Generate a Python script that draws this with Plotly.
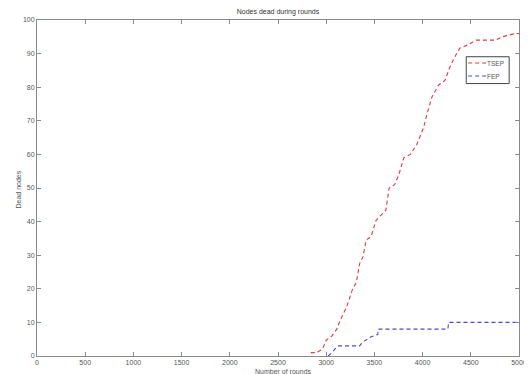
import plotly.graph_objects as go

# Data
tsep_x = [2840, 2900, 2960, 3000, 3060, 3110, 3144, 3212, 3270, 3313, 3347, 3381, 3415,
          3466, 3517, 3568, 3619, 3653, 3710, 3754, 3805, 3873, 3941, 4011, 4045, 4096,
          4164, 4232, 4283, 4334, 4385, 4470, 4554, 4758, 4827, 4962, 5000]
tsep_y = [1, 1, 2, 4.7, 6, 8, 10.6, 14.6, 19.6, 22, 27.5, 29.5, 34.5,
          35.6, 40.4, 42, 43.4, 50, 51, 54, 59, 60, 63, 68, 72, 77,
          80.6, 82, 86, 89, 91.6, 92.6, 94, 94, 95, 96, 96]

fep_x = [3020, 3059, 3110, 3130, 3347, 3364, 3398, 3466, 3534, 3541, 4262, 4270, 5000]
fep_y = [0, 1, 2.7, 3, 3, 3.7, 4.5, 5.7, 6.4, 8, 8, 10, 10]

series_names = ["TSEP", "FEP"]
series_colors = ["#dd3b44", "#4848d0"]

x_ticks = [0, 500, 1000, 1500, 2000, 2500, 3000, 3500, 4000, 4500, 5000]
y_ticks = [0, 10, 20, 30, 40, 50, 60, 70, 80, 90, 100]

title_text = "Nodes dead during rounds"
x_label = "Number of rounds"
y_label = "Dead nodes"

axis_color = "#8a8a8a"
text_color = "#555555"
font_family = "Liberation Sans Narrow, Liberation Sans, Arial, sans-serif"
dash_style = "4px,3px"

fig = go.Figure()
for xs, ys, name, color in [(tsep_x, tsep_y, series_names[0], series_colors[0]),
                            (fep_x, fep_y, series_names[1], series_colors[1])]:
    fig.add_trace(go.Scatter(x=xs, y=ys, mode="lines", name=name, showlegend=False,
                             line=dict(color=color, width=1.1, dash=dash_style)))

axis_common = dict(showgrid=False, zeroline=False, showline=True, mirror="ticks",
                   linecolor=axis_color, linewidth=1, ticks="inside", ticklen=4,
                   tickcolor=axis_color, tickfont=dict(size=7, color=text_color,
                                                       family=font_family))
fig.update_xaxes(range=[0, 5000], tickvals=x_ticks, ticktext=[str(v) for v in x_ticks],
                 ticklabeloverflow="allow", **axis_common)
fig.update_yaxes(range=[0, 100], tickvals=y_ticks, ticktext=[str(v) for v in y_ticks],
                 **axis_common)

# compact MATLAB-style legend box (paper coordinates)
shapes = [dict(type="rect", xref="paper", yref="paper", x0=0.8905, x1=0.9796,
               y0=0.8108, y1=0.8907, line=dict(color="#444444", width=1),
               fillcolor="white", layer="above")]
annotations = []
legend_rows_y = [0.8719, 0.8332]
for name, color, ly in zip(series_names, series_colors, legend_rows_y):
    shapes.append(dict(type="line", xref="paper", yref="paper", x0=0.8945, x1=0.9323,
                       y0=ly, y1=ly, line=dict(color=color, width=1.1, dash=dash_style),
                       layer="above"))
    annotations.append(dict(text=name, xref="paper", yref="paper", x=0.9335, y=ly,
                            xanchor="left", yanchor="middle", showarrow=False,
                            xshift=-2,
                            font=dict(size=6.5, color=text_color, family=font_family)))

annotations += [
    dict(text=x_label, xref="paper", yref="paper", x=0.512, y=-0.046,
         xanchor="center", yanchor="middle", showarrow=False,
         font=dict(size=7, color=text_color, family=font_family)),
    dict(text=y_label, xref="paper", yref="paper", x=-0.0404, y=0.494,
         xanchor="center", yanchor="middle", textangle=-90, showarrow=False,
         font=dict(size=7, color=text_color, family=font_family)),
]

# the page body adds an 8px margin, so the figure is sized to the remaining area
fig.update_layout(
    width=524, height=366,
    margin=dict(l=28.5, r=5.3, t=12, b=18.3),
    plot_bgcolor="white", paper_bgcolor="white",
    showlegend=False,
    title=dict(text=title_text, xref="paper", x=0.5, xanchor="center",
               y=0.989, yanchor="middle",
               font=dict(size=7, color="#333333", family=font_family)),
    shapes=shapes,
    annotations=annotations,
)

fig.write_html("out.html")
